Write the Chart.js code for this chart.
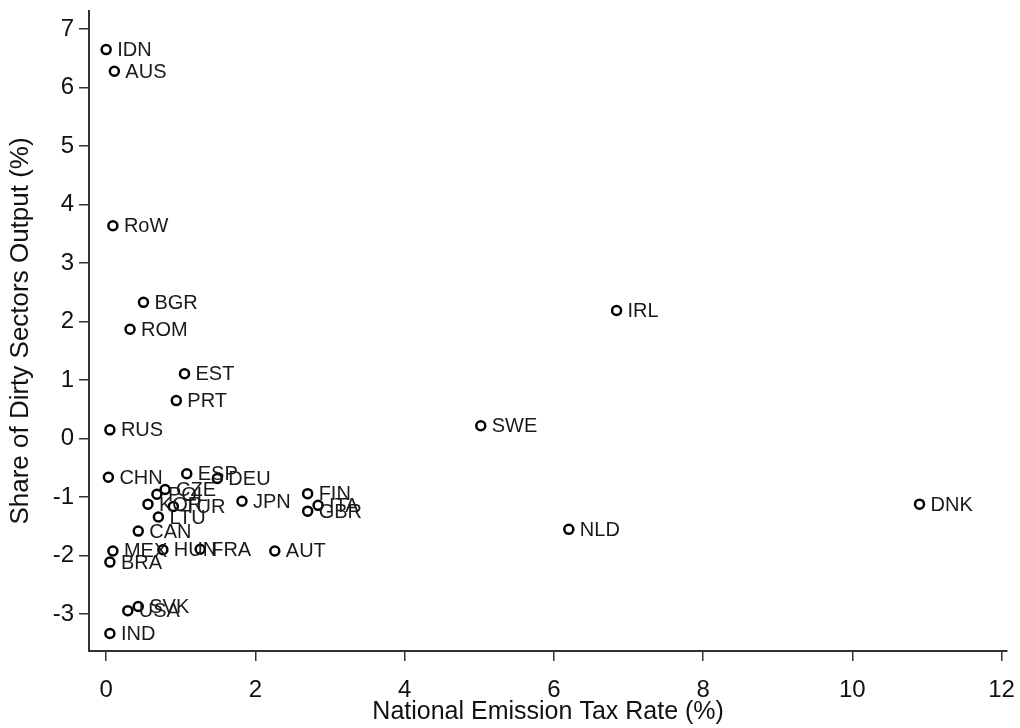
<!DOCTYPE html>
<html>
<head>
<meta charset="utf-8">
<script src="https://cdn.jsdelivr.net/npm/chart.js@4.4.1/dist/chart.umd.min.js"></script>
<style>
  html, body { margin: 0; padding: 0; background: #fff; }
  #wrap { width: 1020px; height: 728px; }
</style>
</head>
<body>
<div id="wrap"><canvas id="c" width="1020" height="728"></canvas></div>
<script>
// Country codes and their values
const countries = ['IDN','AUS','RoW','BGR','ROM','EST','PRT','RUS','IRL','SWE','DNK','NLD',
  'CHN','ESP','DEU','FIN','ITA','GBR','JPN','AUT','FRA','HUN','MEX','BRA','CAN','LTU','TUR',
  'CZE','POL','KOR','SVK','USA','IND'];
// National emission tax rate (%)
const taxRate = [0.00,0.11,0.09,0.50,0.32,1.05,0.94,0.05,6.84,5.02,10.90,6.20,
  0.03,1.08,1.49,2.70,2.84,2.70,1.82,2.26,1.26,0.76,0.09,0.05,0.43,0.70,0.90,
  0.79,0.68,0.56,0.43,0.29,0.05];
// Share of dirty sectors output (%)
const dirtyShare = [6.65,6.28,3.64,2.33,1.87,1.11,0.65,0.15,2.19,0.22,-1.12,-1.55,
  -0.66,-0.60,-0.68,-0.94,-1.14,-1.24,-1.07,-1.92,-1.89,-1.90,-1.92,-2.11,-1.58,-1.34,-1.16,
  -0.87,-0.95,-1.12,-2.87,-2.94,-3.33];
const xTicks = [0,2,4,6,8,10,12];
const yTicks = [-3,-2,-1,0,1,2,3,4,5,6,7];

const FONT = "'Liberation Sans', Arial, sans-serif";
const INK = '#111';
const AXIS = '#333';

const points = taxRate.map((x, i) => ({ x: x, y: dirtyShare[i], label: countries[i] }));

// Country code written to the right of each marker
const pointLabels = {
  id: 'pointLabels',
  afterDatasetsDraw(chart) {
    const ctx = chart.ctx;
    const meta = chart.getDatasetMeta(0);
    ctx.save();
    ctx.font = '20px ' + FONT;
    ctx.fillStyle = '#1a1a1a';
    ctx.textAlign = 'left';
    ctx.textBaseline = 'middle';
    meta.data.forEach((el, i) => {
      ctx.fillText(countries[i], el.x + 11, el.y + 1);
    });
    ctx.restore();
  }
};

new Chart(document.getElementById('c'), {
  type: 'scatter',
  data: {
    datasets: [{
      data: points,
      pointStyle: 'circle',
      pointRadius: 4.5,
      pointBorderWidth: 2.5,
      pointBorderColor: '#000',
      pointBackgroundColor: 'rgba(255,255,255,0)',
      pointHoverRadius: 4.5
    }]
  },
  options: {
    responsive: false,
    animation: false,
    layout: { padding: { top: 7, right: 5, left: 0, bottom: 0 } },
    plugins: { legend: { display: false }, tooltip: { enabled: false } },
    scales: {
      x: {
        type: 'linear',
        min: -0.23,
        max: 12.075,
        afterBuildTicks(scale) { scale.ticks = xTicks.map(v => ({ value: v })); },
        afterFit(scale) { scale.height = 77; },
        border: { display: true, color: AXIS, width: 2 },
        grid: { drawOnChartArea: false, drawTicks: true, tickLength: 10, color: AXIS, lineWidth: 1.5 },
        ticks: { font: { family: FONT, size: 24, lineHeight: 2.0 }, color: INK, padding: 5, maxRotation: 0 },
        title: {
          display: true,
          text: 'National Emission Tax Rate (%)',
          font: { family: FONT, size: 25 },
          color: INK,
          padding: { top: 0, bottom: 1 }
        }
      },
      y: {
        type: 'linear',
        min: -3.63,
        max: 7.31,
        afterBuildTicks(scale) { scale.ticks = yTicks.map(v => ({ value: v })); },
        afterFit(scale) { scale.width = 89; },
        border: { display: true, color: AXIS, width: 2 },
        grid: { drawOnChartArea: false, drawTicks: true, tickLength: 10, color: AXIS, lineWidth: 1.5 },
        ticks: { font: { family: FONT, size: 24, lineHeight: 0.5 }, color: INK, padding: 5 },
        title: {
          display: true,
          text: 'Share of Dirty Sectors Output (%)',
          font: { family: FONT, size: 26 },
          color: INK,
          padding: { top: 5, bottom: 0 }
        }
      }
    }
  },
  plugins: [pointLabels]
});
</script>
</body>
</html>
